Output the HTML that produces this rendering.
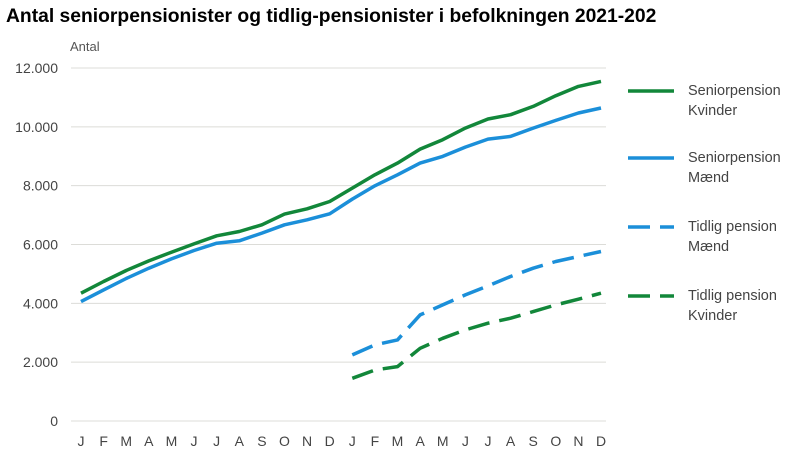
<!DOCTYPE html>
<html><head><meta charset="utf-8"><style>
body{margin:0;background:#fff;font-family:"Liberation Sans",sans-serif;}
#wrap{position:relative;width:800px;height:460px;overflow:hidden;}
</style></head><body>
<div id="wrap">
<svg id="svg" width="800" height="460" xmlns="http://www.w3.org/2000/svg">
<text x="6" y="22" font-size="19.3" font-weight="bold" fill="#000">Antal seniorpensionister og tidlig-pensionister i befolkningen 2021-202</text>
<text x="70" y="51" font-size="13" fill="#555">Antal</text>
<g id="grid"></g><g id="ylabels"></g><g id="xlabels"></g><g id="series"></g>
<g id="legend"></g>
</svg>
</div>
<script>
const months=["J","F","M","A","M","J","J","A","S","O","N","D","J","F","M","A","M","J","J","A","S","O","N","D"];
const yTicks=[0,2000,4000,6000,8000,10000,12000];
const yTickLabels=["0","2.000","4.000","6.000","8.000","10.000","12.000"];
const seniorKvinder=[4343,4741,5115,5444,5739,6022,6295,6442,6669,7032,7213,7463,7917,8371,8767,9244,9561,9958,10265,10412,10696,11059,11376,11546];
const seniorMaend=[4060,4457,4843,5195,5512,5796,6045,6125,6386,6669,6839,7043,7542,7996,8371,8767,8994,9312,9584,9675,9958,10219,10469,10639];
const tidligMaend=[2246,2586,2756,3607,3947,4287,4593,4911,5195,5422,5592,5762];
const tidligKvinder=[1452,1735,1849,2473,2813,3096,3323,3493,3720,3947,4140,4343];
const seriesNames=["Seniorpension|Kvinder","Seniorpension|Mænd","Tidlig pension|Mænd","Tidlig pension|Kvinder"];
const NS="http://www.w3.org/2000/svg";
const x=i=>81+i*(601-81)/23;
const y=v=>421-v*(421-68)/12000;
function mk(tag,attrs,parent){const e=document.createElementNS(NS,tag);for(const k in attrs)e.setAttribute(k,attrs[k]);document.getElementById(parent).appendChild(e);return e;}
yTicks.forEach((t,i)=>{
 const l=mk("line",{x1:71,x2:606,y1:y(t),y2:y(t),stroke:"#dcdcd8","stroke-width":1},"grid");
 
 
 const tx=mk("text",{x:58,y:y(t)+5,"font-size":14,fill:"#444","text-anchor":"end"},"ylabels");
 tx.textContent=yTickLabels[i];
 
 
});
months.forEach((m,i)=>{
 const tx=mk("text",{x:x(i),y:446,"font-size":14,fill:"#444","text-anchor":"middle"},"xlabels");
 tx.textContent=m;
 
 
});
function line(data,offset,color,dash,name){
 const d=data.map((v,i)=>(i?"L":"M")+x(i+offset).toFixed(1)+","+y(v).toFixed(1)).join("");
 const p=mk("path",{d:d,fill:"none",stroke:color,"stroke-width":3.5,"stroke-linejoin":"round"},"series");
 if(dash)p.setAttribute("stroke-dasharray","22 10");
 
 
}
const G="#12873a",B="#1b8fd9";
line(seniorKvinder,0,G,false,'line-seniorpension-kvinder');
line(seniorMaend,0,B,false,'line-seniorpension-maend');
line(tidligMaend,12,B,true,'line-tidlig-pension-maend');
line(tidligKvinder,12,G,true,'line-tidlig-pension-kvinder');
const legColors=[G,B,B,G],legDash=[false,false,true,true],legY=[91,158,227,296];
seriesNames.forEach((n,i)=>{
 const l=mk("line",{x1:628,x2:674,y1:legY[i],y2:legY[i],stroke:legColors[i],"stroke-width":3.5},"legend");
 if(legDash[i])l.setAttribute("stroke-dasharray","22 10");
 
 
 const parts=n.split("|");
 const t=mk("text",{x:688,y:legY[i]+4,"font-size":14.5,fill:"#444"},"legend");
 
 
 parts.forEach((p,j)=>{const s=document.createElementNS(NS,"tspan");s.setAttribute("x",688);s.setAttribute("dy",j?20:0);s.textContent=p;t.appendChild(s);});
});
</script>
</body></html>
